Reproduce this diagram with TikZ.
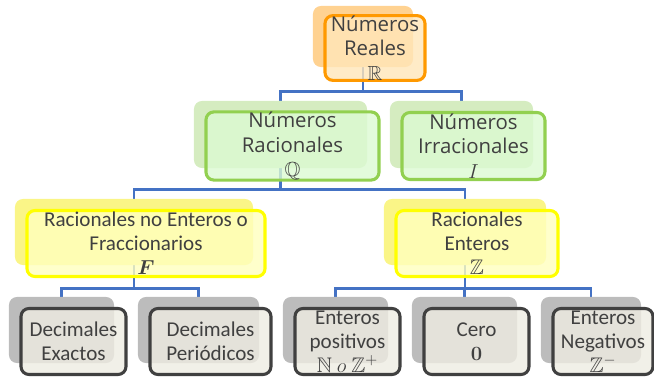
\documentclass[tikz,border=0pt]{standalone}
\usepackage{amsmath}
\usepackage{amssymb}
\usepackage[no-math]{fontspec}
\setmainfont{Carlito}
\newfontfamily\upfont{Open Sans}
\usetikzlibrary{positioning}
\pgfdeclarelayer{bg}
\pgfsetlayers{bg,main}
\definecolor{txt}{RGB}{64,64,64}
\definecolor{linea}{RGB}{68,114,196}
\definecolor{naranja}{RGB}{255,153,0}
\definecolor{naranjaback}{RGB}{255,210,145}
\definecolor{naranjafill}{RGB}{255,230,185}
\definecolor{verde}{RGB}{146,208,80}
\definecolor{verdeback}{RGB}{213,236,192}
\definecolor{verdefill}{RGB}{220,250,210}
\definecolor{amarillo}{RGB}{255,255,0}
\definecolor{amarilloback}{RGB}{250,245,135}
\definecolor{amarillofill}{RGB}{255,255,190}
\definecolor{gris}{RGB}{64,64,64}
\definecolor{grisback}{RGB}{188,188,188}
\definecolor{grisfill}{RGB}{238,236,226}
\tikzstyle{box} = [rectangle, rounded corners=0.2cm, inner sep=0pt, align=center, text=txt]
\tikzstyle{back} = [box, draw=none]
\tikzstyle{front} = [box, line width=2.2pt, fill opacity=0.8, text opacity=1]
\tikzstyle{upper} = [font=\upfont\fontsize{14.5}{17.5}\selectfont]
\tikzstyle{lower} = [font=\fontsize{15}{17}\selectfont]
\tikzstyle{orangebox} = [front, upper, draw=naranja, fill=naranjafill]
\tikzstyle{greenbox} = [front, upper, draw=verde, fill=verdefill]
\tikzstyle{yellowbox} = [front, lower, draw=amarillo, fill=amarillofill]
\tikzstyle{graybox} = [front, lower, draw=gris, fill=grisfill]
\tikzstyle{conn} = [line width=1.8pt, draw=linea]
\begin{document}
\begin{tikzpicture}[x=0.025cm, y=-0.025cm]
\useasboundingbox (0,0) rectangle (654,380);
% back boxes
\node(reales)[back, fill=naranjaback, minimum width=2.5cm, minimum height=1.525cm] at (363,36.5){};
\node(racionales)[back, fill=verdeback, minimum width=4.325cm, minimum height=1.675cm] at (280.5,134.5){};
\node(irracionales)[back, fill=verdeback, minimum width=3.575cm, minimum height=1.675cm] at (461.5,134.5){};
\node(fracc)[back, fill=amarilloback, minimum width=5.95cm, minimum height=1.65cm] at (134,232){};
\node(enteros)[back, fill=amarilloback, minimum width=4.05cm, minimum height=1.65cm] at (465,232){};
\node(exactos)[back, fill=grisback, minimum width=2.625cm, minimum height=1.65cm] at (61.5,330){};
\node(periodicos)[back, fill=grisback, minimum width=3.025cm, minimum height=1.65cm] at (198.5,330){};
\node(positivos)[back, fill=grisback, minimum width=2.625cm, minimum height=1.65cm] at (335.5,330){};
\node(cero)[back, fill=grisback, minimum width=2.625cm, minimum height=1.65cm] at (464.5,330){};
\node(negativos)[back, fill=grisback, minimum width=2.5cm, minimum height=1.65cm] at (591,330){};
% front boxes
\node(realesf)[orangebox, minimum width=2.5cm, minimum height=1.525cm] at ([shift={(12,11.5)}]reales){Números\\Reales\\$\mathbb{R}$};
\node(racionalesf)[greenbox, minimum width=4.325cm, minimum height=1.675cm] at ([shift={(12,11.5)}]racionales){Números\\Racionales\\$\mathbb{Q}$};
\node(irracionalesf)[greenbox, minimum width=3.575cm, minimum height=1.675cm] at ([shift={(12,11.5)}]irracionales){Números\\Irracionales\\$I$};
\node(fraccf)[yellowbox, minimum width=5.95cm, minimum height=1.65cm] at ([shift={(12,11.5)}]fracc){Racionales no Enteros o\\Fraccionarios\\$\boldsymbol{F}$};
\node(enterosf)[yellowbox, minimum width=4.05cm, minimum height=1.65cm] at ([shift={(12,11.5)}]enteros){Racionales\\Enteros\\$\mathbb{Z}$};
\node(exactosf)[graybox, minimum width=2.625cm, minimum height=1.65cm] at ([shift={(12,11.5)}]exactos){Decimales\\Exactos};
\node(periodicosf)[graybox, minimum width=3.025cm, minimum height=1.65cm] at ([shift={(12,11.5)}]periodicos){Decimales\\Periódicos};
\node(positivosf)[graybox, minimum width=2.625cm, minimum height=1.65cm] at ([shift={(12,11.5)}]positivos){Enteros\\positivos\\$\mathbb{N}\ o\ \mathbb{Z}^{+}$};
\node(cerof)[graybox, minimum width=2.625cm, minimum height=1.65cm] at ([shift={(12,11.5)}]cero){Cero\\$\mathbf{0}$};
\node(negativosf)[graybox, minimum width=2.5cm, minimum height=1.65cm] at ([shift={(12,11.5)}]negativos){Enteros\\Negativos\\$\mathbb{Z}^{-}$};
% connectors
\begin{pgfonlayer}{bg}
\draw[conn](reales.south)--++(0,24)-|(racionales.north);
\draw[conn](reales.south)--++(0,24)-|(irracionales.north);
\draw[conn](racionales.south)--++(0,21)-|(fracc.north);
\draw[conn](racionales.south)--++(0,21)-|(enteros.north);
\draw[conn](fracc.south)--++(0,23)-|(exactos.north);
\draw[conn](fracc.south)--++(0,23)-|(periodicos.north);
\draw[conn](enteros.south)--++(0,23)-|(positivos.north);
\draw[conn](enteros.south)--++(0,23)-|(cero.north);
\draw[conn](enteros.south)--++(0,23)-|(negativos.north);
\end{pgfonlayer}
\end{tikzpicture}
\end{document}
